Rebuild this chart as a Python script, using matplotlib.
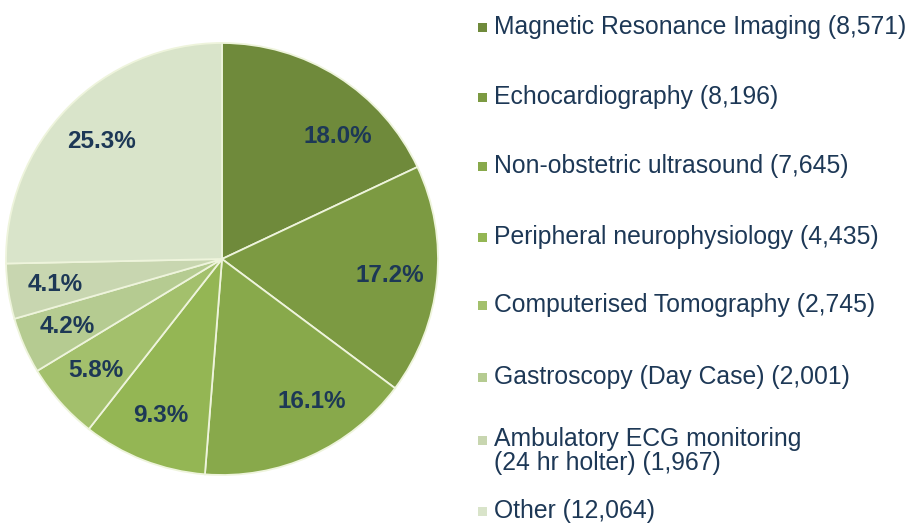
# Pie chart of diagnostic tests waiting list share

import matplotlib
matplotlib.use("Agg")
import matplotlib.pyplot as plt
import numpy as np

tests = ["Magnetic Resonance Imaging", "Echocardiography",
         "Non-obstetric ultrasound", "Peripheral neurophysiology",
         "Computerised Tomography", "Gastroscopy (Day Case)",
         "Ambulatory ECG monitoring\n(24 hr holter)", "Other"]
counts = [8571, 8196, 7645, 4435, 2745, 2001, 1967, 12064]
colors = ["#6f8a3b", "#7c9a42", "#88a94b", "#94b654", "#a3c06c",
          "#b5cb91", "#c8d6b0", "#d9e4ca"]

text_col = "#1d3856"
plt.rcParams['font.family'] = ['Liberation Sans', 'DejaVu Sans']

fig = plt.figure(figsize=(9.1, 5.3), dpi=100)
W, H = 910, 530

# pie centre and radius in pixels
cx, cy, r = 222, 259, 216
ax = fig.add_axes([(cx - r) / W, (H - cy - r) / H, 2 * r / W, 2 * r / H])

wedges, texts, autotexts = ax.pie(
    counts, colors=colors, startangle=90, counterclock=False,
    autopct="%.1f%%", pctdistance=0.77,
    wedgeprops=dict(edgecolor="#eef4dc", linewidth=1.3),
    textprops=dict(color=text_col, fontsize=17.5, fontweight="bold"))

# excel nudges a couple of labels off the wedge middle
nudge = [-11, 0, 8, 0, 0, 0, 0, 0]
for t, w, d in zip(autotexts, wedges, nudge):
    ang = np.deg2rad((w.theta1 + w.theta2) / 2 + d)
    rr = 0.78
    t.set_position((rr * np.cos(ang), rr * np.sin(ang)))

ax.set_xlim(-1, 1)
ax.set_ylim(-1, 1)
ax.set_aspect("equal")

# legend on the right, drawn by hand so the spacing matches
leg_y = [27, 97, 166, 237, 305, 377, 440, 511]
for name, n, c, y in zip(tests, counts, colors, leg_y):
    fig.patches.append(plt.Rectangle((478 / W, (H - y - 4.5) / H), 9 / W, 9 / H,
                                     transform=fig.transFigure, facecolor=c,
                                     edgecolor="none"))
    two = "\n" in name
    fig.text(494 / W, (H - y + (13 if two else 0)) / H, f"{name} ({n:,})",
             fontsize=17.8, color=text_col, va="top" if two else "center",
             ha="left", linespacing=1.0)

fig.savefig("out.png", dpi=100)
